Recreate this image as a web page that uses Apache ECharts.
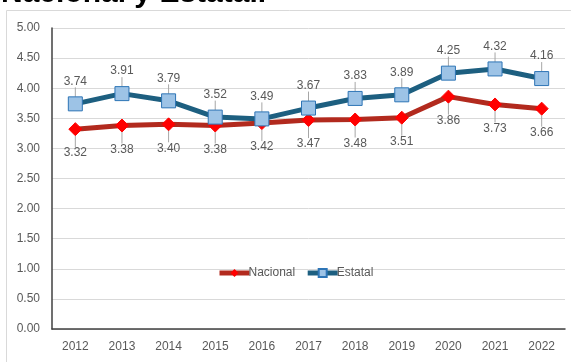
<!DOCTYPE html>
<html>
<head>
<meta charset="utf-8">
<script src="https://cdn.jsdelivr.net/npm/echarts@6/dist/echarts.min.js"></script>
<style>
html, body { margin: 0; padding: 0; background: #fff; }
#chart { width: 571px; height: 362px; }
</style>
</head>
<body>
<div id="chart"></div>
<script>
const years = ['2012', '2013', '2014', '2015', '2016', '2017', '2018', '2019', '2020', '2021', '2022'];
const nacional = [3.32, 3.38, 3.40, 3.38, 3.42, 3.47, 3.48, 3.51, 3.86, 3.73, 3.66];
const estatal = [3.74, 3.91, 3.79, 3.52, 3.49, 3.67, 3.83, 3.89, 4.25, 4.32, 4.16];
const yTicks = { min: 0, max: 5, step: 0.5 };

const chart = echarts.init(document.getElementById('chart'));
const labelFont = { color: '#595959', fontSize: 12, fontFamily: 'Liberation Sans' };

chart.setOption({
    animation: false,
    graphic: [
        {
            type: 'rect',
            shape: { x: 6.5, y: 10.5, width: 700, height: 500 },
            style: { fill: 'none', stroke: '#d9d9d9', lineWidth: 1 },
            z: -1
        },
        {
            type: 'text',
            left: 1,
            top: -21,
            style: {
                text: 'Nacional y Estatal.',
                font: 'bold 30px "Liberation Sans"',
                fill: '#000'
            }
        }
    ],
    legend: {
        left: 212,
        top: 262,
        itemGap: 10,
        itemWidth: 30,
        itemHeight: 10,
        lineStyle: { width: 5 },
        textStyle: { color: '#595959', fontSize: 12, fontFamily: 'Liberation Sans', padding: [0, 0, 0, -6] },
        data: ['Nacional', 'Estatal']
    },
    grid: { left: 52, right: 6, top: 28, bottom: 33 },
    xAxis: {
        type: 'category',
        data: years,
        axisLine: { lineStyle: { color: '#404040', width: 1.5 } },
        axisTick: { show: false },
        axisLabel: Object.assign({ margin: 12 }, labelFont)
    },
    yAxis: {
        type: 'value',
        min: yTicks.min,
        max: yTicks.max,
        interval: yTicks.step,
        axisLine: { show: true, lineStyle: { color: '#404040', width: 1.5 } },
        axisTick: { show: false },
        splitLine: { lineStyle: { color: '#d9d9d9' } },
        axisLabel: Object.assign({ margin: 12, formatter: v => v.toFixed(2) }, labelFont)
    },
    series: [
        {
            name: 'Nacional',
            type: 'line',
            data: nacional,
            symbol: 'diamond',
            symbolSize: 13,
            lineStyle: { color: '#b22a1e', width: 5 },
            itemStyle: { color: '#ff0000', borderColor: '#ff0000' },
            label: {
                show: true,
                position: 'bottom',
                distance: 2,
                formatter: p => p.value.toFixed(2),
                ...labelFont
            },
            labelLayout: { dy: 9 },
            labelLine: { show: true, lineStyle: { color: '#a6a6a6', width: 1 } },
            z: 3
        },
        {
            name: 'Estatal',
            type: 'line',
            data: estatal,
            symbol: 'rect',
            symbolSize: 14,
            lineStyle: { color: '#1d5f80', width: 5 },
            itemStyle: { color: '#9dc3e6', borderColor: '#2e75b6', borderWidth: 1 },
            label: {
                show: true,
                position: 'top',
                distance: 2,
                formatter: p => p.value.toFixed(2),
                ...labelFont
            },
            labelLayout: { dy: -7 },
            labelLine: { show: true, lineStyle: { color: '#a6a6a6', width: 1 } },
            z: 4
        }
    ]
});
</script>
</body>
</html>
